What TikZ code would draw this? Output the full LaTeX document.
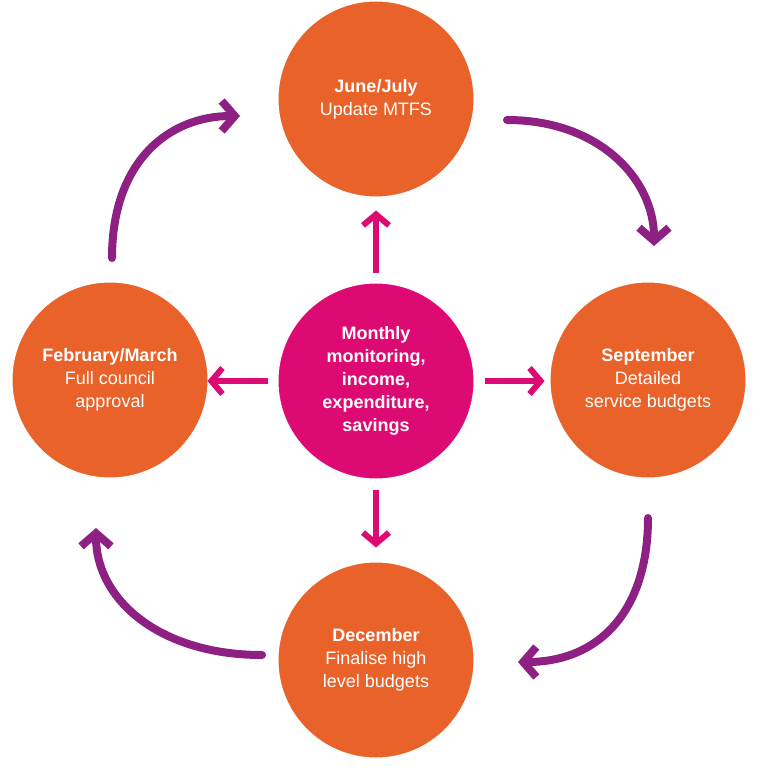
\documentclass[tikz,border=0pt]{standalone}
\usepackage{fontspec}
\setmainfont{Liberation Sans}
\usetikzlibrary{arrows.meta,shadows}
\definecolor{org}{HTML}{E9622A}
\definecolor{mag}{HTML}{DD0A73}
\definecolor{pur}{HTML}{8E2083}
\begin{document}
\begin{tikzpicture}[x=1pt,y=-1pt,
 circ/.style={circle,fill=org,draw=white,line width=3pt,minimum size=198pt,inner sep=0pt,align=center,text=white,font=\fontsize{18}{23}\selectfont,drop shadow={shadow xshift=1pt,shadow yshift=-1pt,opacity=0.3}},
 mid/.style={circ,fill=mag,font=\bfseries\fontsize{18}{23}\selectfont},
 marr/.style={draw=mag,line width=6pt,-{Straight Barb[length=11pt,width=26pt,line width=6pt]}},
 parr/.style={draw=pur,line width=8pt,line cap=round,-{Straight Barb[length=13pt,width=30pt,line width=8pt]}}]
\useasboundingbox (0,0) rectangle (760,779);
\node[circ] (t) at (376,99) {\textbf{June/July}\\Update MTFS};
\node[circ] (l) at (110,380) {\textbf{February/March}\\Full council\\approval};
\node[circ] (r) at (648,380) {\textbf{September}\\Detailed\\service budgets};
\node[circ] (b) at (376,660) {\textbf{December}\\Finalise high\\level budgets};
\node[mid] (c) at (376,381) {Monthly\\monitoring,\\income,\\expenditure,\\savings};
\draw[marr] (c.north)++(0,-8) -- ++(0,-62);
\draw[marr] (c.west)++(-8,0) -- ++(-60,0);
\draw[marr] (c.east)++(8,0) -- ++(60,0);
\draw[marr] (c.south)++(0,8) -- ++(0,58);
\coordinate (a1) at (112,258); \coordinate (a2) at (240,116);
\coordinate (b1) at (507,120); \coordinate (b2) at (654,246);
\coordinate (c1) at (648,518); \coordinate (c2) at (518,662);
\coordinate (d1) at (262,655); \coordinate (d2) at (96,528);
\draw[parr] (a1) .. controls (112,160) and (170,116) .. (a2);
\draw[parr] (b1) .. controls (600,120) and (654,180) .. (b2);
\draw[parr] (c1) .. controls (648,610) and (600,662) .. (c2);
\draw[parr] (d1) .. controls (160,655) and (96,600) .. (d2);
\end{tikzpicture}
\end{document}
